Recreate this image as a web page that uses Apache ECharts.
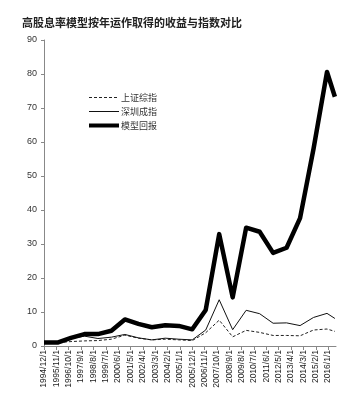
<!DOCTYPE html>
<html>
<head>
<meta charset="utf-8">
<script src="https://cdn.jsdelivr.net/npm/echarts@6/dist/echarts.min.js"></script>
<style>
html,body{margin:0;padding:0;background:#fff;}
#main{width:343px;height:393px;}
</style>
</head>
<body>
<div id="main"></div>
<script>
// x positions: months elapsed since 1994/12
const xMonths = [0, 12, 24, 36, 48, 60, 72, 84, 96, 108, 120, 132, 144, 156, 168, 180, 192, 204, 216, 228, 240, 252, 259];
const shanghai = [1, 1, 1.3, 1.5, 1.6, 2.0, 3.2, 2.3, 1.8, 2.0, 1.8, 1.6, 3.9, 7.6, 2.7, 4.6, 4.0, 3.1, 3.1, 3.0, 4.7, 5.0, 4.3];
const shenzhen = [1, 1, 2.2, 2.9, 2.2, 2.6, 3.4, 2.4, 1.8, 2.3, 2.0, 1.8, 4.7, 13.6, 4.8, 10.5, 9.5, 6.7, 6.8, 6.0, 8.4, 9.6, 8.1];
const model = [1, 1, 2.4, 3.5, 3.5, 4.5, 7.8, 6.5, 5.5, 6.1, 5.9, 4.9, 10.6, 32.9, 14.3, 34.8, 33.6, 27.4, 28.9, 37.6, 58, 80.6, 73.3];
const tickLabels = ['1994/12/1','1995/11/1','1996/10/1','1997/9/1','1998/8/1','1999/7/1','2000/6/1','2001/5/1','2002/4/1','2003/3/1','2004/2/1','2005/1/1','2005/12/1','2006/11/1','2007/10/1','2008/9/1','2009/8/1','2010/7/1','2011/6/1','2012/5/1','2013/4/1','2014/3/1','2015/2/1','2016/1/1'];
const yTicks = [0, 10, 20, 30, 40, 50, 60, 70, 80, 90];
const seriesNames = ['上证综指', '深圳成指', '模型回报'];
const tickStep = 11;

const pairs = arr => xMonths.map((x, i) => [x, arr[i]]);

const chart = echarts.init(document.getElementById('main'));
chart.setOption({
  animation: false,
  backgroundColor: '#fff',
  title: {
    text: '高股息率模型按年运作取得的收益与指数对比',
    left: 17, top: 12,
    textStyle: { fontSize: 11, fontWeight: 'bold', color: '#222', fontFamily: 'Noto Sans CJK SC' }
  },
  legend: {
    orient: 'vertical',
    left: 82, top: 88,
    itemWidth: 30, itemHeight: 10, itemGap: 5,
    itemStyle: { opacity: 0 },
    textStyle: { fontSize: 9, color: '#333', fontFamily: 'Noto Sans CJK SC', padding: [0, 0, 0, -3] },
    data: [
      { name: seriesNames[0], lineStyle: { width: 1, type: [3, 2], color: '#222' } },
      { name: seriesNames[1], lineStyle: { width: 1, color: '#111' } },
      { name: seriesNames[2], lineStyle: { width: 4, color: '#000' } }
    ]
  },
  grid: { left: 44, right: 7, top: 40, bottom: 47 },
  xAxis: {
    type: 'value',
    min: 0, max: 260, interval: tickStep,
    axisLine: { lineStyle: { color: '#888', width: 1 } },
    axisTick: { show: true, length: 4, lineStyle: { color: '#888' } },
    splitLine: { show: false },
    axisLabel: {
      rotate: 90, fontSize: 8.5, color: '#222', margin: 4,
      fontFamily: 'Liberation Sans',
      showMaxLabel: false,
      formatter: v => tickLabels[Math.round(v / tickStep)] || ''
    }
  },
  yAxis: {
    type: 'value',
    min: yTicks[0], max: yTicks[yTicks.length - 1], interval: 10,
    axisLine: { show: true, lineStyle: { color: '#888', width: 1 } },
    axisTick: { show: true, length: 3, lineStyle: { color: '#888' } },
    splitLine: { show: false },
    axisLabel: { fontSize: 9, color: '#333', margin: 7, fontFamily: 'Liberation Sans' }
  },
  series: [
    {
      name: seriesNames[0], type: 'line', data: pairs(shanghai),
      symbol: 'none', itemStyle: { color: '#222' },
      lineStyle: { color: '#222', width: 1, type: [3, 2] }
    },
    {
      name: seriesNames[1], type: 'line', data: pairs(shenzhen),
      symbol: 'none', itemStyle: { color: '#111' },
      lineStyle: { color: '#111', width: 1 }
    },
    {
      name: seriesNames[2], type: 'line', data: pairs(model),
      symbol: 'none', itemStyle: { color: '#000' },
      lineStyle: { color: '#000', width: 4.5, join: 'round' }
    }
  ]
});
</script>
</body>
</html>
